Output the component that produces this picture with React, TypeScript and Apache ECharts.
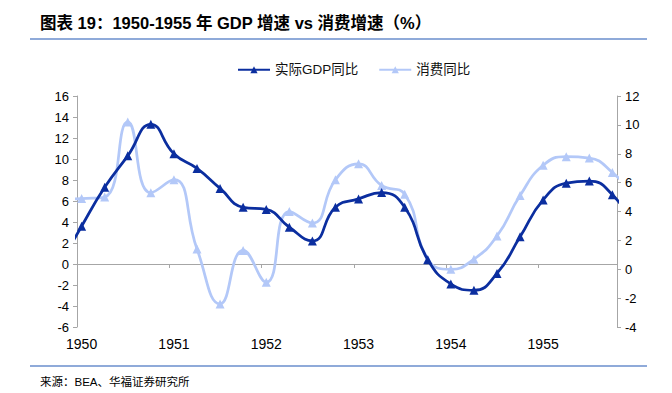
import React, { useEffect, useRef } from "react";
import * as echarts from "echarts";

const yearLabels = ["1950", "1951", "1952", "1953", "1954", "1955"];
const quartersPerYear = 4;
// quarterly values, 1949Q4 .. 1956Q1 (the first and last only show as the line running to the plot edges)
const gdpYoY = [-0.3, 3.6, 7.3, 10.3, 13.3, 10.5, 9.1, 7.2, 5.4, 5.2, 3.5, 2.2, 5.4, 6.2, 6.8, 5.4, 0.4, -1.9, -2.5, -0.9, 2.6, 6.1, 7.7, 7.9, 6.6, 3.5];
const consumptionYoY = [4.8, 4.9, 5.0, 10.2, 5.3, 6.2, 1.4, -2.4, 1.3, -0.9, 4.0, 3.2, 6.2, 7.3, 5.8, 5.2, 0.7, 0.0, 0.7, 2.3, 5.1, 7.2, 7.8, 7.7, 6.7, 5.0];
const firstQuarterOffset = -1;
const leftTicks = { min: -6, max: 16, step: 2 };
const rightTicks = { min: -4, max: 12, step: 2 };
const seriesNames = ["实际GDP同比", "消费同比"];
const titleText = "图表 19：1950-1955 年 GDP 增速 vs 消费增速（%）";
const sourceText = "来源：BEA、华福证券研究所";

const FONT = '"Liberation Sans", Arial, "Noto Sans CJK SC", sans-serif';
const DARK = "#0B2E9F";
const LIGHT = "#B3C8F8";
const AXIS = "#A6A6A6";

export default function App() {
  const ref = useRef<HTMLDivElement>(null);
  useEffect(() => {
    if (!ref.current) return;
    const chart = echarts.init(ref.current, undefined, { renderer: "svg" });
    const shownQuarters = yearLabels.length * quartersPerYear;
    const labelVals = yearLabels.map((_, i) => i * quartersPerYear);
    const tickVals = yearLabels.slice(1).map((_, i) => (i + 1) * quartersPerYear - 0.2);
    chart.setOption({
      animation: false,
      textStyle: { fontFamily: FONT },
      grid: { left: 77, right: 55, top: 96, bottom: 66, containLabel: false },
      legend: {
        left: 232,
        top: 58,
        itemWidth: 32,
        itemHeight: 9,
        itemGap: 20,
        textStyle: { fontSize: 13.5, color: "#111", fontFamily: FONT },
        data: seriesNames,
      },
      xAxis: [
        {
          type: "value",
          min: -0.2,
          max: shownQuarters - 1 + 0.2,
          position: "bottom",
          axisLine: { show: false, onZero: false },
          axisTick: { show: false },
          splitLine: { show: false },
          axisLabel: {
            customValues: labelVals,
            formatter: (v: number) => yearLabels[Math.round(v / quartersPerYear)] ?? "",
            fontSize: 14,
            color: "#000",
            margin: 10,
            fontFamily: FONT,
          },
        },
        {
          type: "value",
          min: -0.2,
          max: shownQuarters - 1 + 0.2,
          position: "bottom",
          axisLine: { show: true, onZero: true, onZeroAxisIndex: 0, lineStyle: { color: AXIS, width: 1 } },
          axisTick: { show: true, customValues: tickVals, length: 4, lineStyle: { color: AXIS } },
          axisLabel: { show: false },
          splitLine: { show: false },
        },
      ],
      yAxis: [
        {
          type: "value",
          position: "left",
          min: leftTicks.min,
          max: leftTicks.max,
          interval: leftTicks.step,
          axisLine: { show: true, onZero: false, lineStyle: { color: AXIS } },
          axisTick: { show: true, length: 4, lineStyle: { color: AXIS } },
          splitLine: { show: false },
          axisLabel: { fontSize: 13, color: "#000", margin: 8, fontFamily: FONT },
        },
        {
          type: "value",
          position: "right",
          min: rightTicks.min,
          max: rightTicks.max,
          interval: rightTicks.step,
          axisLine: { show: true, onZero: false, lineStyle: { color: AXIS } },
          axisTick: { show: true, length: 4, lineStyle: { color: AXIS } },
          splitLine: { show: false },
          axisLabel: { fontSize: 13, color: "#000", margin: 8, fontFamily: FONT },
        },
      ],
      series: [
        {
          name: seriesNames[0],
          type: "line",
          xAxisIndex: 0,
          yAxisIndex: 0,
          smooth: true,
          clip: true,
          symbol: "triangle",
          symbolSize: 9,
          z: 4,
          itemStyle: { color: DARK },
          lineStyle: { color: DARK, width: 2.75 },
          data: gdpYoY.map((v, i) => [i + firstQuarterOffset, v]),
        },
        {
          name: seriesNames[1],
          type: "line",
          xAxisIndex: 0,
          yAxisIndex: 1,
          smooth: true,
          clip: true,
          symbol: "triangle",
          symbolSize: 9,
          z: 3,
          itemStyle: { color: LIGHT },
          lineStyle: { color: LIGHT, width: 2.75 },
          data: consumptionYoY.map((v, i) => [i + firstQuarterOffset, v]),
        },
      ],
      graphic: [
        {
          type: "text",
          x: 40,
          y: 23,
          style: {
            text: titleText,
            fontSize: 16.5,
            fontWeight: "bold",
            fontFamily: FONT,
            fill: "#000",
            verticalAlign: "middle",
          },
        },
        {
          type: "line",
          shape: { x1: 30, y1: 39, x2: 647, y2: 39 },
          style: { stroke: "#8FAAD9", lineWidth: 2 },
        },
        {
          type: "line",
          shape: { x1: 30, y1: 366, x2: 647, y2: 366 },
          style: { stroke: "#8FAAD9", lineWidth: 2 },
        },
        {
          type: "text",
          x: 40,
          y: 382,
          style: {
            text: sourceText,
            fontSize: 11.5,
            fontFamily: FONT,
            fill: "#000",
            verticalAlign: "middle",
          },
        },
      ],
    });
    return () => chart.dispose();
  }, []);
  return (
    <div
      ref={ref}
      style={{ position: "fixed", left: 0, top: 0, width: 672, height: 393, background: "#fff" }}
    />
  );
}
